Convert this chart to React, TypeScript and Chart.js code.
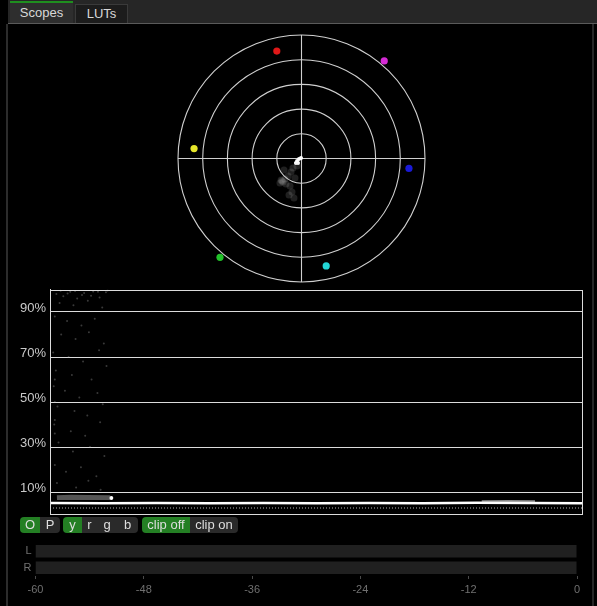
import React, { useEffect, useRef } from "react";
import { Chart, registerables } from "chart.js";
Chart.register(...registerables);

// ---------- Vectorscope data (normalized -1..1) ----------
const targetNames = ["R", "Mg", "B", "Cy", "G", "Yl"];
const targetX = [-0.2, 0.67, 0.87, 0.2, -0.66, -0.87];
const targetY = [0.87, 0.79, -0.08, -0.87, -0.8, 0.08];
const targetColors = ["#e01818", "#d42ad4", "#1a1ad8", "#22d6d6", "#22c22a", "#e6e62a"];
const ringRadii = [0.2, 0.4, 0.6, 0.8, 1.0];

const coreX = [-0.036, -0.02, -0.004, -0.045, -0.028];
const coreY = [-0.02, -0.004, 0.004, -0.036, -0.036];
const spreadX = [-0.158, -0.134, -0.174, -0.109, -0.085, -0.069, -0.093, -0.077, -0.061, -0.101, -0.126, -0.053, -0.142, -0.036, -0.15, -0.165];
const spreadY = [-0.182, -0.166, -0.198, -0.142, -0.109, -0.077, -0.223, -0.271, -0.32, -0.296, -0.206, -0.158, -0.093, -0.061, -0.19, -0.175];

// ---------- Waveform data (x: position %, y: level %) ----------
const yTickValues = [10, 30, 50, 70, 90];
const traceX = [0, 10, 20, 30, 40, 50, 60, 70, 80, 90, 100];
const traceY = [5.1, 5.0, 5.1, 5.0, 5.1, 5.0, 5.1, 5.0, 5.2, 5.1, 5.0];
const floorX = [0, 100];
const floorY = [2.9, 2.9];
const bandX = [1.3, 4, 7, 11.3];
const bandY = [7.5, 7.7, 7.6, 7.5];
const brightX = [81, 86, 91];
const brightY = [5.9, 6.0, 5.9];
const noiseX = [1.2, 2.5, 3.8, 5.1, 6.4, 7.7, 9.0, 10.5, 1.8, 4.4, 7.1, 9.8, 0.9, 3.2, 5.9, 8.4, 2.1, 4.8, 7.3, 10.1, 0.6, 3.5, 6.2, 9.2, 1.1, 4.1, 7.8, 10.6, 0.7, 2.8, 5.5, 8.9, 1.4, 4.6, 7.0, 9.9, 0.8, 3.9, 6.6, 9.4, 1.6, 4.3, 7.5, 10.2, 0.9, 3.0, 5.8, 8.7, 1.3, 4.9, 7.2, 9.5, 0.9, 0.9, 0.9, 0.9, 2.0, 3.3, 4.7, 6.0, 8.1, 9.3, 10.8];
const noiseY = [98, 97, 99, 96, 98.5, 97.2, 99, 98.8, 94, 93, 95, 92, 88, 86, 84, 87, 80, 78, 81, 76, 72, 70, 68, 73, 64, 62, 60, 66, 57, 55, 52, 54, 48, 46, 44, 49, 40, 37, 35, 41, 32, 28, 30, 26, 22, 19, 21, 17, 14, 12, 15, 11, 60, 50, 42, 36, 99.5, 98.2, 99.3, 97.6, 99.1, 96.4, 99.6];

// ---------- Audio meter data ----------
const meterChannels = ["L", "R"];
const meterTicks = [-60, -48, -36, -24, -12, 0];
const meterLevels = [-60, -60];

const FONT = "'Liberation Sans', Arial, sans-serif";

const pts = (xs: number[], ys: number[]) => xs.map((x, i) => ({ x, y: ys[i] }));

function Vectorscope() {
  const ref = useRef<HTMLCanvasElement>(null);
  useEffect(() => {
    const rings = {
      id: "rings",
      beforeDatasetsDraw(chart: any) {
        const { ctx, scales } = chart;
        const sx = scales.x, sy = scales.y;
        const cx = sx.getPixelForValue(0), cy = sy.getPixelForValue(0);
        ctx.save();
        ctx.strokeStyle = "#d0d0d0";
        ctx.lineWidth = 1.1;
        ringRadii.forEach((r) => {
          const rp = sx.getPixelForValue(r) - cx;
          ctx.beginPath();
          ctx.arc(cx, cy, rp, 0, Math.PI * 2);
          ctx.stroke();
        });
        ctx.beginPath();
        ctx.moveTo(sx.getPixelForValue(-1), cy);
        ctx.lineTo(sx.getPixelForValue(1), cy);
        ctx.moveTo(cx, sy.getPixelForValue(1));
        ctx.lineTo(cx, sy.getPixelForValue(-1));
        ctx.stroke();
        ctx.restore();
      },
    };
    const chart = new Chart(ref.current!, {
      type: "scatter",
      data: {
        datasets: [
          { label: "spread", data: pts(spreadX, spreadY), pointRadius: 3.5, pointBackgroundColor: "rgba(200,200,200,0.16)", pointBorderWidth: 0 },
          { label: "core", data: pts(coreX, coreY), pointRadius: 2, pointBackgroundColor: "#ffffff", pointBorderWidth: 0 },
          { label: "targets", data: pts(targetX, targetY), pointRadius: 3.6, pointBackgroundColor: targetColors, pointBorderWidth: 0 },
        ],
      },
      options: {
        animation: false,
        responsive: false,
        layout: { padding: 5 },
        plugins: { legend: { display: false }, tooltip: { enabled: false } },
        scales: {
          x: { type: "linear", min: -1, max: 1, display: false },
          y: { type: "linear", min: -1, max: 1, display: false },
        },
      },
      plugins: [rings],
    });
    return () => chart.destroy();
  }, []);
  return <canvas ref={ref} width={257} height={257} style={{ position: "absolute", left: 173, top: 30, width: 257, height: 257 }} />;
}

function Waveform() {
  const ref = useRef<HTMLCanvasElement>(null);
  useEffect(() => {
    const frame = {
      id: "frame",
      afterDatasetsDraw(chart: any) {
        const { ctx, chartArea: a } = chart;
        ctx.save();
        ctx.strokeStyle = "#dcdcdc";
        ctx.lineWidth = 1;
        ctx.strokeRect(Math.round(a.left) + 0.5, Math.round(a.top) + 0.5, Math.round(a.right - a.left) - 1, Math.round(a.bottom - a.top) - 1);
        ctx.restore();
      },
    };
    const chart = new Chart(ref.current!, {
      type: "scatter",
      data: {
        datasets: [
          { label: "noise", data: pts(noiseX, noiseY), pointRadius: 1, pointBackgroundColor: "rgba(190,190,190,0.3)", pointBorderWidth: 0 },
          { label: "band", data: pts(bandX, bandY), showLine: true, borderColor: "rgba(170,170,170,0.5)", borderWidth: 5, pointRadius: 0 },
          { label: "floor", data: pts(floorX, floorY), showLine: true, borderColor: "rgba(200,200,200,0.6)", borderWidth: 1.5, borderDash: [1, 2], pointRadius: 0 },
          { label: "bright", data: pts(brightX, brightY), showLine: true, borderColor: "rgba(230,230,230,0.6)", borderWidth: 2, pointRadius: 0 },
          { label: "trace", data: pts(traceX, traceY), showLine: true, borderColor: "#ffffff", borderWidth: 2.5, pointRadius: 0 },
          { label: "spot", data: [{ x: 11.5, y: 7.3 }], pointRadius: 2, pointBackgroundColor: "#ffffff", pointBorderWidth: 0 },
        ],
      },
      options: {
        animation: false,
        responsive: false,
        layout: { padding: { top: 5.5, right: 7, bottom: 5.5, left: 0 } },
        plugins: { legend: { display: false }, tooltip: { enabled: false } },
        scales: {
          x: { type: "linear", min: 0, max: 100, display: false },
          y: {
            type: "linear",
            min: 0,
            max: 100,
            afterFit: (s: any) => { s.width = 50; s.paddingTop = 0; s.paddingBottom = 0; },
            afterBuildTicks: (s: any) => { s.ticks = yTickValues.map((v) => ({ value: v })); },
            grid: { color: "#dcdcdc", lineWidth: 1, drawTicks: false },
            border: { display: true, color: "#dcdcdc" },
            ticks: {
              color: "#c8c8c8",
              padding: 4,
              labelOffset: -4,
              font: { family: FONT, size: 13 },
              callback: (v: any) => v + "%",
            },
          },
        },
      },
      plugins: [frame],
    });
    return () => chart.destroy();
  }, []);
  return <canvas ref={ref} width={590} height={236} style={{ position: "absolute", left: 0, top: 284, width: 590, height: 236 }} />;
}

function Meters() {
  const ref = useRef<HTMLCanvasElement>(null);
  useEffect(() => {
    const chart = new Chart(ref.current!, {
      type: "bar",
      data: {
        labels: meterChannels,
        datasets: [
          { label: "track", data: meterChannels.map(() => [-60, 0]) as any, backgroundColor: "#202020", barPercentage: 0.76, categoryPercentage: 1, grouped: false },
          { label: "level", data: meterLevels.map((v) => [-60, v]) as any, backgroundColor: "#3a9a3a", barPercentage: 0.76, categoryPercentage: 1, grouped: false },
        ],
      },
      options: {
        animation: false,
        responsive: false,
        indexAxis: "y",
        layout: { padding: { top: 5, right: 13, bottom: 0, left: 0 } },
        plugins: { legend: { display: false }, tooltip: { enabled: false } },
        scales: {
          x: {
            type: "linear",
            min: -60,
            max: 0,
            afterFit: (s: any) => { s.height = 30; },
            afterBuildTicks: (s: any) => { s.ticks = meterTicks.map((v) => ({ value: v })); },
            grid: { drawOnChartArea: false, drawTicks: true, tickLength: 3, tickColor: "#4a4a4a" },
            border: { display: false },
            ticks: { color: "#707070", padding: 4, font: { family: FONT, size: 11 } },
          },
          y: {
            type: "category",
            afterFit: (s: any) => { s.width = 35.5; s.paddingTop = 0; s.paddingBottom = 0; },
            grid: { display: false, drawTicks: false },
            border: { display: false },
            ticks: { color: "#707070", padding: 4, autoSkip: false, font: { family: FONT, size: 11 } },
          },
        },
      },
    });
    return () => chart.destroy();
  }, []);
  return <canvas ref={ref} width={590} height={68} style={{ position: "absolute", left: 0, top: 538, width: 590, height: 68 }} />;
}

const GREEN = "#247f24";
const DARK = "#2a2a2a";

function Btn({ label, on, left, width, radius }: { label: string; on: boolean; left: number; width: number; radius: string }) {
  return (
    <div style={{ position: "absolute", left, top: 517, width, height: 16, background: on ? GREEN : DARK, borderRadius: radius, color: "#dedede", fontFamily: FONT, fontSize: 13, lineHeight: "16px", textAlign: "center" }}>
      {label}
    </div>
  );
}

export default function App() {
  useEffect(() => {
    document.body.style.margin = "0";
    document.body.style.background = "#000";
  }, []);
  return (
    <div style={{ position: "absolute", left: 0, top: 0, width: 597, height: 606, background: "#000", overflow: "hidden" }}>
      {/* tab bar */}
      <div style={{ position: "absolute", left: 8, top: 0, width: 589, height: 23, background: "#262626" }} />
      <div style={{ position: "absolute", left: 8, top: 23, width: 589, height: 1, background: "#5a5a5a" }} />
      <div style={{ position: "absolute", left: 10, top: 1, width: 63, height: 22, background: "#2e2e2e", borderTop: "2px solid #1f8f1f", boxSizing: "border-box", color: "#d8d8d8", fontFamily: FONT, fontSize: 13, lineHeight: "20px", textAlign: "center" }}>Scopes</div>
      <div style={{ position: "absolute", left: 75, top: 4, width: 53, height: 19, background: "#1c1c1c", border: "1px solid #3a3a3a", borderBottom: "none", boxSizing: "border-box", color: "#d8d8d8", fontFamily: FONT, fontSize: 13, lineHeight: "18px", textAlign: "center" }}>LUTs</div>
      {/* panel borders */}
      <div style={{ position: "absolute", left: 6, top: 24, width: 2, height: 582, background: "#2c2c2c" }} />
      <div style={{ position: "absolute", left: 592, top: 24, width: 2, height: 582, background: "#262626" }} />

      <Vectorscope />
      <Waveform />

      {/* buttons */}
      <Btn label="O" on={true} left={20} width={20} radius="4px 0 0 4px" />
      <Btn label="P" on={false} left={40} width={20} radius="0 4px 4px 0" />
      <Btn label="y" on={true} left={63} width={19} radius="4px 0 0 4px" />
      <Btn label="r" on={false} left={82} width={15} radius="0" />
      <Btn label="g" on={false} left={97} width={20} radius="0" />
      <Btn label="b" on={false} left={117} width={21} radius="0 4px 4px 0" />
      <Btn label="clip off" on={true} left={142} width={48} radius="4px 0 0 4px" />
      <Btn label="clip on" on={false} left={190} width={48} radius="0 4px 4px 0" />

      <Meters />
    </div>
  );
}
